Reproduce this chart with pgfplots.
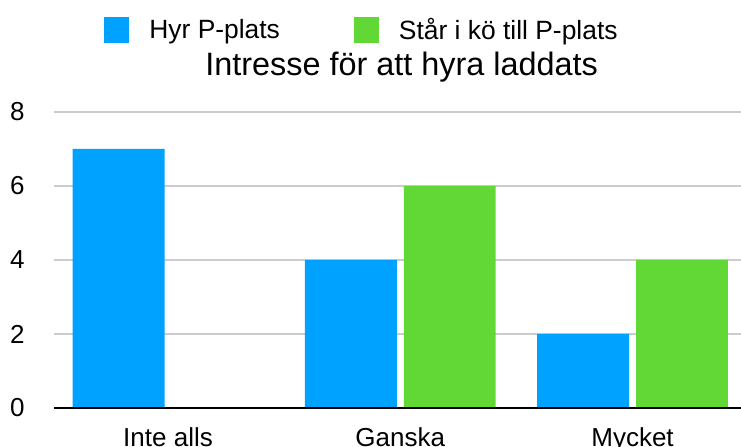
\documentclass[border=0pt]{standalone}
\usepackage{fontspec}
\setmainfont{Liberation Sans}
\usepackage{pgfplots}
\pgfplotsset{compat=1.18}
\definecolor{cblue}{HTML}{00A2FF}
\definecolor{cgreen}{HTML}{61D836}
\definecolor{cgrid}{HTML}{CCCCCC}
\begin{document}
\begin{tikzpicture}
\begin{axis}[
  scale only axis,
  clip mode=individual,
  width=343.5pt, height=148pt,
  xmin=-0.491, xmax=2.467,
  ymin=0, ymax=8,
  ybar, bar width=0.396,
  axis line style={draw=none},
  tick style={draw=none},
  major tick length=0pt,
  ytick={0,2,4,6,8},
  ymajorgrids,
  grid style={color=cgrid, line width=0.9pt},
  xtick={0,1,2},
  xticklabels={Inte alls, Ganska, Mycket},
  /pgf/number format/assume math mode=true,
  ticklabel style={font=\fontsize{13}{15}\selectfont},
  yticklabel style={anchor=east, inner sep=0pt, xshift=-14.5pt},
  xticklabel style={anchor=north, inner sep=0pt, yshift=-9.5pt},
  legend columns=2,
  legend style={at={(rel axis cs:0.4527,1)}, anchor=center, yshift=41pt, xshift=-2pt,
    draw=none, fill=none, font=\fontsize{13.2}{15}\selectfont,
    nodes={inner sep=0pt},
    /tikz/every odd column/.append style={column sep=10pt},
    /tikz/every even column/.append style={column sep=37pt}},
  legend cell align=left,
  legend image code/.code={\fill[#1,draw=none] (0pt,-6.5pt) rectangle (12.5pt,6.5pt);},
]
\addplot[fill=cblue, draw=none, bar shift=-0.213] coordinates {(0,7) (1,4) (2,2)};
\addlegendentry{Hyr P-plats}
\addplot[fill=cgreen, draw=none, bar shift=0.213] coordinates {(0,0) (1,6) (2,4)};
\addlegendentry{Står i kö till P-plats}
\draw[black, line width=1.4pt] (rel axis cs:0,0) -- (rel axis cs:1,0);
\node[anchor=base, font=\fontsize{16.2}{19}\selectfont] at (rel axis cs:0.506,1) [yshift=18pt] {Intresse för att hyra laddats};
\coordinate (bl) at (rel axis cs:0,0);
\coordinate (tr) at (rel axis cs:1,1);
\end{axis}
\pgfresetboundingbox
\path[use as bounding box] ([xshift=-27pt,yshift=-19.5pt]bl) rectangle ([yshift=56pt]tr);
\end{tikzpicture}
\end{document}
